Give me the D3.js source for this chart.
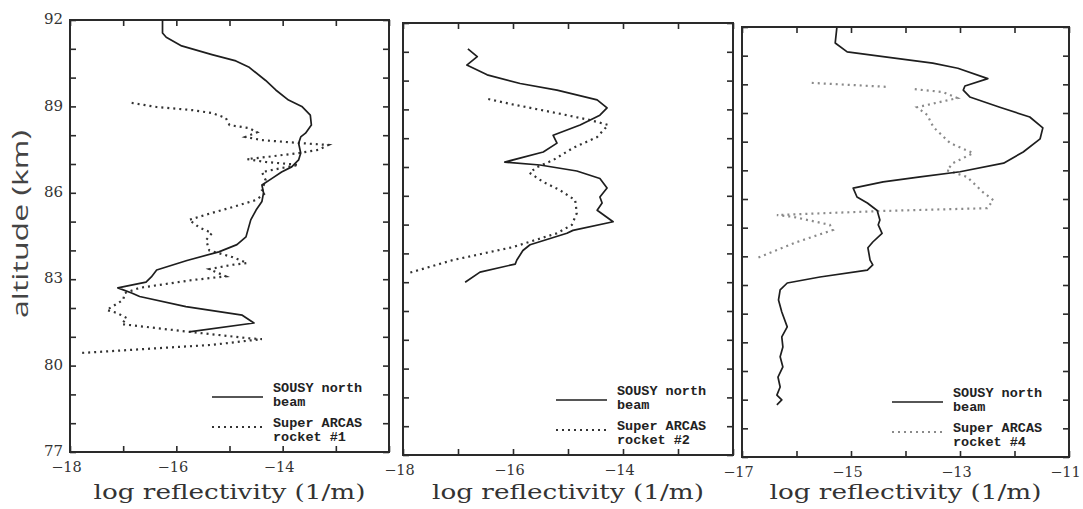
<!DOCTYPE html>
<html>
<head>
<meta charset="utf-8">
<script src="https://cdn.jsdelivr.net/npm/d3@7"></script>
<style>
  html, body { margin: 0; padding: 0; background: #fff; }
  svg { display: block; }
</style>
</head>
<body>
<svg id="chart" width="1083" height="509"></svg>
<script>
// Radar (SOUSY north beam) and rocket (Super ARCAS) reflectivity profiles.
// Each point: [log reflectivity (1/m), altitude (km)]; null marks a gap.

const sousyR1 = [[-16.26,92.0],[-16.26,91.55],[-16.19,91.4],[-15.9,91.1],[-15.33,90.8],[-14.88,90.58],[-14.64,90.37],[-14.32,89.9],[-14.13,89.57],[-13.89,89.22],[-13.64,89.0],[-13.48,88.7],[-13.46,88.35],[-13.57,88.07],[-13.66,87.94],[-13.7,87.72],[-13.66,87.38],[-13.7,87.14],[-13.83,86.9],[-14.02,86.72],[-14.2,86.5],[-14.39,86.27],[-14.36,86.0],[-14.39,85.7],[-14.5,85.4],[-14.6,85.06],[-14.69,84.47],[-14.86,84.2],[-15.2,83.95],[-15.8,83.65],[-16.37,83.32],[-16.47,83.08],[-16.57,82.9],[-17.1,82.7],[-16.84,82.52],[-16.69,82.4],[-15.82,82.05],[-14.76,81.75],[-14.54,81.48],[-15.76,81.17]];

const rocket1 = [[-16.84,89.12],[-16.37,88.98],[-15.7,88.87],[-15.33,88.77],[-15.07,88.6],[-15.0,88.35],[-14.64,88.25],[-14.48,88.1],[-14.7,87.94],[-14.39,87.83],[-13.7,87.73],[-13.14,87.66],[-13.33,87.49],[-13.7,87.38],[-14.32,87.24],[-14.67,87.17],[-14.32,87.07],[-13.7,86.97],[-14.02,86.86],[-14.39,86.72],[-14.32,86.44],[-14.39,86.1],[-14.32,86.0],[-14.5,85.75],[-14.95,85.5],[-15.33,85.3],[-15.76,85.06],[-15.57,84.8],[-15.33,84.6],[-15.44,84.36],[-15.38,84.0],[-14.95,83.77],[-14.67,83.56],[-14.95,83.5],[-15.38,83.35],[-15.07,83.1],[-15.7,82.97],[-16.69,82.7],[-16.97,82.52],[-17.0,82.28],[-17.31,81.93],[-17.12,81.83],[-16.93,81.65],[-17.03,81.44],[-15.89,81.2],[-14.64,80.95],[-14.39,80.92],[-15.33,80.72],[-17.78,80.44]];

const sousyR2 = [[-16.82,91.1],[-16.65,90.83],[-16.84,90.54],[-16.47,90.2],[-15.87,89.9],[-15.2,89.67],[-14.47,89.33],[-14.29,89.05],[-14.42,88.8],[-14.78,88.46],[-15.27,88.1],[-15.2,87.83],[-15.45,87.52],[-16.15,87.17],[-15.51,87.07],[-14.84,86.86],[-14.42,86.6],[-14.29,86.27],[-14.42,85.96],[-14.38,85.75],[-14.47,85.5],[-14.18,85.1],[-14.91,84.8],[-15.02,84.7],[-15.69,84.3],[-15.82,84.1],[-15.93,83.77],[-15.96,83.63],[-16.6,83.35],[-16.87,83.0]];

const rocket2 = [[-16.45,89.36],[-16.05,89.19],[-15.2,88.87],[-14.6,88.63],[-14.27,88.46],[-14.47,88.04],[-14.91,87.66],[-15.27,87.24],[-15.56,87.0],[-15.7,86.8],[-15.45,86.48],[-15.15,86.2],[-14.87,85.85],[-14.84,85.4],[-14.93,84.99],[-15.2,84.7],[-16.0,84.22],[-17.09,83.77],[-17.93,83.3]];

const sousyR4 = [[-15.26,91.97],[-15.29,91.44],[-15.07,91.13],[-14.34,90.95],[-13.5,90.74],[-13.04,90.56],[-12.49,90.2],[-12.91,89.94],[-12.94,89.8],[-12.82,89.56],[-12.27,89.2],[-11.72,88.86],[-11.48,88.48],[-11.53,88.1],[-11.84,87.64],[-12.2,87.25],[-13.0,86.95],[-13.73,86.77],[-14.41,86.6],[-14.96,86.38],[-14.89,86.07],[-14.7,85.86],[-14.52,85.6],[-14.47,85.27],[-14.5,85.1],[-14.43,84.8],[-14.6,84.5],[-14.69,84.3],[-14.65,83.87],[-14.6,83.7],[-14.7,83.52],[-15.57,83.28],[-16.17,83.07],[-16.3,82.83],[-16.33,82.48],[-16.27,82.06],[-16.17,81.54],[-16.27,81.19],[-16.25,80.84],[-16.3,80.5],[-16.25,80.14],[-16.34,79.79],[-16.3,79.44],[-16.36,79.16],[-16.27,78.99],[-16.36,78.82]];

const rocket4 = [[-15.72,90.05],[-14.32,89.91],null,[-13.83,89.83],[-13.31,89.73],[-13.05,89.52],[-13.79,89.2],[-13.6,88.93],[-13.49,88.51],[-13.18,87.95],[-12.76,87.6],[-13.13,87.25],[-13.24,87.0],[-12.87,86.77],[-12.58,86.24],[-12.39,85.96],[-12.5,85.68],[-14.47,85.58],[-16.36,85.44],[-16.07,85.38],[-15.39,85.1],[-15.33,84.92],[-15.99,84.5],[-16.72,83.94]];

// Axis ranges and tick labels
const altDomain = [77, 92];
const altTickLabels = [77, 80, 83, 86, 89, 92];
const xDomains = [[-18, -12], [-18, -12], [-17, -11]];
const xTickLabels = [[-18, -16, -14], [-18, -16, -14], [-17, -15, -13, -11]];
const rocketNames = ["rocket #1", "rocket #2", "rocket #4"];
const xTitle = "log reflectivity (1/m)";
const yTitle = "altitude (km)";

const panels = [
  { sousy: sousyR1, rocket: rocket1, box: { l: 70,  t: 20, r: 389,  b: 452 }, rocketColor: "#333" },
  { sousy: sousyR2, rocket: rocket2, box: { l: 403, t: 23, r: 733,  b: 455 }, rocketColor: "#333" },
  { sousy: sousyR4, rocket: rocket4, box: { l: 742, t: 27, r: 1069, b: 457 }, rocketColor: "#8a8a8a" }
];

const svg = d3.select("#chart");
const ink = "#2a2a2a";
const fmt = d => String(d).replace("-", "\u2212");

panels.forEach((p, i) => {
  const { l, t, r, b } = p.box;
  const x = d3.scaleLinear().domain(xDomains[i]).range([l, r]);
  const y = d3.scaleLinear().domain(altDomain).range([b, t]);
  const g = svg.append("g");

  const xTicks = d3.range(xDomains[i][0], xDomains[i][1] + 0.5, 1);
  const yTicks = d3.range(altDomain[0], altDomain[1] + 0.5, 1);

  // inward ticks on all four sides
  const axB = d3.axisBottom(x).tickValues(xTicks).tickSize(-6).tickPadding(11)
    .tickFormat(d => xTickLabels[i].includes(d) ? fmt(d) : "");
  const axT = d3.axisTop(x).tickValues(xTicks).tickSize(-6).tickFormat("");
  const axL = d3.axisLeft(y).tickValues(yTicks).tickSize(-6).tickPadding(7)
    .tickFormat(d => (i === 0 && altTickLabels.includes(d)) ? d : "");
  const axR = d3.axisRight(y).tickValues(yTicks).tickSize(-6).tickFormat("");

  const styleAxis = sel => {
    sel.select(".domain").remove();
    sel.selectAll(".tick line").attr("stroke", ink).attr("stroke-width", 1.6);
  };

  g.append("g").attr("transform", `translate(0,${b})`).call(axB).call(styleAxis)
    .selectAll("text").attr("font-family", "'DejaVu Serif', serif").attr("font-size", 14.5)
    .attr("fill", "#333").attr("dy", "0.6em").attr("dx", -4);
  g.append("g").attr("transform", `translate(0,${t})`).call(axT).call(styleAxis);
  g.append("g").attr("transform", `translate(${l},0)`).call(axL).call(styleAxis)
    .selectAll("text").attr("font-family", "'DejaVu Serif', serif").attr("font-size", 15)
    .attr("fill", "#333").attr("dy", "0.25em");
  g.append("g").attr("transform", `translate(${r},0)`).call(axR).call(styleAxis);

  // frame
  g.append("rect").attr("x", l).attr("y", t).attr("width", r - l).attr("height", b - t)
    .attr("fill", "none").attr("stroke", ink).attr("stroke-width", 2);

  const line = d3.line().defined(d => d != null).x(d => x(d[0])).y(d => y(d[1]));

  // rocket profile (dotted)
  g.append("path").datum(p.rocket).attr("d", line)
    .attr("fill", "none").attr("stroke", p.rocketColor).attr("stroke-width", 2.2)
    .attr("stroke-dasharray", "2,4");

  // radar profile (solid)
  g.append("path").datum(p.sousy).attr("d", line)
    .attr("fill", "none").attr("stroke", "#1e1e1e").attr("stroke-width", 1.7)
    .attr("stroke-linejoin", "round");

  // legend
  const lx0 = r - 177, lx1 = r - 126, tx = r - 116;
  const leg = g.append("g").attr("font-family", "'Liberation Mono', monospace")
    .attr("font-weight", "bold").attr("font-size", 13.5).attr("fill", "#222");
  leg.append("line").attr("x1", lx0).attr("x2", lx1).attr("y1", b - 55).attr("y2", b - 55)
    .attr("stroke", "#1e1e1e").attr("stroke-width", 1.7);
  leg.append("line").attr("x1", lx0).attr("x2", lx1).attr("y1", b - 25).attr("y2", b - 25)
    .attr("stroke", p.rocketColor).attr("stroke-width", 2.2).attr("stroke-dasharray", "2,4");
  leg.append("text").attr("x", tx).attr("y", b - 60).text("SOUSY north");
  leg.append("text").attr("x", tx).attr("y", b - 46).text("beam");
  leg.append("text").attr("x", tx).attr("y", b - 25).text("Super ARCAS");
  leg.append("text").attr("x", tx).attr("y", b - 11).text(rocketNames[i]);

  // x-axis title
  g.append("text").attr("x", (l + r) / 2).attr("y", 499).attr("text-anchor", "middle")
    .attr("font-family", "'DejaVu Serif', serif").attr("font-size", 21).attr("fill", "#333")
    .attr("textLength", 272).attr("lengthAdjust", "spacingAndGlyphs")
    .text(xTitle);
});

// y-axis title
svg.append("text").attr("transform", "translate(28,224) rotate(-90)")
  .attr("text-anchor", "middle").attr("font-family", "'Open Sans', sans-serif")
  .attr("font-size", 22).attr("fill", "#444")
  .attr("textLength", 188).attr("lengthAdjust", "spacingAndGlyphs")
  .text(yTitle);
</script>
</body>
</html>
